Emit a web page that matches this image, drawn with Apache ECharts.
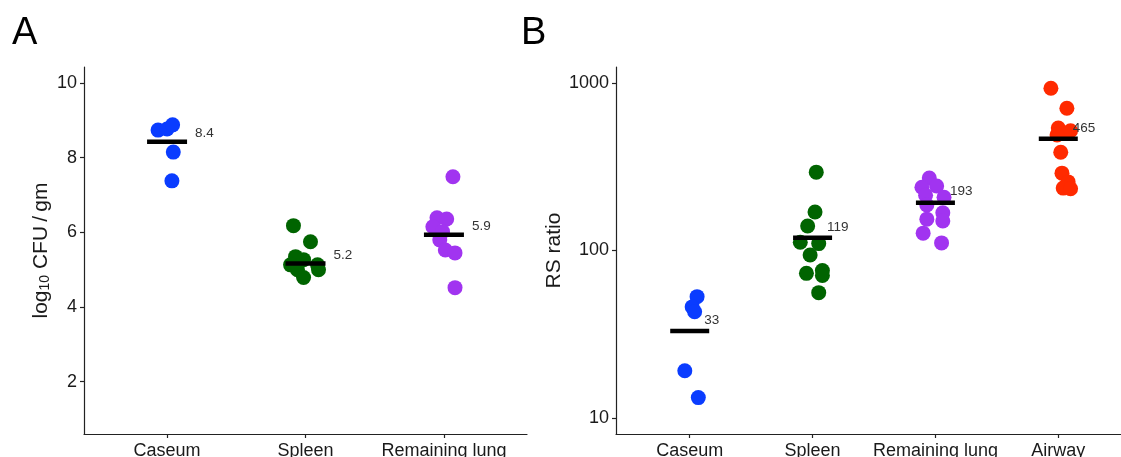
<!DOCTYPE html>
<html>
<head>
<meta charset="utf-8">
<script src="https://cdn.jsdelivr.net/npm/echarts@6/dist/echarts.min.js"></script>
<style>
html, body { margin: 0; padding: 0; background: #fff; }
#chart { width: 1121px; height: 457px; }
</style>
</head>
<body>
<div id="chart"></div>
<script>
// panel A: log10 CFU per gram
const groupsA = ['Caseum', 'Spleen', 'Remaining lung'];
const caseumA = [8.74, 8.77, 8.88, 8.15, 7.38];
const caseumAJitter = [-0.065, 0.0, 0.04, 0.045, 0.035];
const spleenA = [6.18, 5.75, 5.35, 5.27, 5.13, 5.13, 5.0, 5.0, 4.79];
const spleenAJitter = [-0.087, 0.036, -0.072, -0.014, 0.087, -0.108, 0.094, -0.058, -0.014];
const lungA = [7.49, 6.39, 6.36, 6.15, 6.02, 5.8, 5.53, 5.45, 4.52];
const lungAJitter = [0.065, -0.05, 0.02, -0.08, -0.01, -0.03, 0.01, 0.08, 0.08];
const meansA = [8.43, 5.17, 5.94];
const ticksA = [2, 4, 6, 8, 10];

// panel B: RS ratio (log scale)
const groupsB = ['Caseum', 'Spleen', 'Remaining lung', 'Airway'];
const caseumB = [53, 46, 43, 19.1, 13.2];
const caseumBJitter = [0.06, 0.02, 0.04, -0.04, 0.07];
const spleenB = [294, 170, 140, 112, 110, 94, 73, 76, 71, 56];
const spleenBJitter = [0.03, 0.02, -0.04, -0.1, 0.05, -0.02, -0.05, 0.08, 0.08, 0.05];
const lungB = [271, 239, 243, 214, 208, 187, 168, 154, 150, 127, 111];
const lungBJitter = [-0.05, -0.11, 0.01, -0.08, 0.07, -0.07, 0.06, -0.07, 0.06, -0.1, 0.05];
const airwayB = [933, 709, 539, 520, 500, 490, 387, 290, 257, 236, 234];
const airwayBJitter = [-0.06, 0.07, 0, 0.1, 0.05, -0.01, 0.02, 0.03, 0.08, 0.04, 0.1];
const meansB = [33, 119, 193, 465];
const ticksB = [10, 100, 1000];

const colors = ['#0a3cff', '#006400', '#a134f0', '#ff2a00'];
const font = 'Liberation Sans, Arial, sans-serif';
const axisColor = '#222';

function dots(values, jitter, pos, color, idx) {
    return {
        type: 'scatter',
        xAxisIndex: idx,
        yAxisIndex: idx,
        symbolSize: 15,
        silent: true,
        itemStyle: { color: color, opacity: 1 },
        data: values.map(function(v, i) { return [pos + jitter[i], v]; })
    };
}

function meanBars(means, idx, width, dist, dy, fmt) {
    return {
        type: 'scatter',
        xAxisIndex: idx,
        yAxisIndex: idx,
        symbol: 'rect',
        symbolSize: [width, 4.5],
        silent: true,
        z: 5,
        itemStyle: { color: '#000', opacity: 1 },
        label: {
            show: true,
            position: 'right',
            distance: dist,
            offset: [0, dy],
            fontSize: 13.5,
            fontFamily: font,
            color: '#333',
            formatter: function(p) { return fmt(p.value[1]); }
        },
        data: means.map(function(m, i) { return [i + 1, m]; })
    };
}

function xAxisFor(idx, groups) {
    const pos = groups.map(function(g, i) { return i + 1; });
    return {
        gridIndex: idx,
        type: 'value',
        min: 0.4,
        max: groups.length + 0.6,
        splitLine: { show: false },
        axisLine: { show: true, onZero: false, lineStyle: { color: axisColor, width: 1.2 } },
        axisTick: { show: true, customValues: pos, length: 4, lineStyle: { color: axisColor, width: 1.2 } },
        axisLabel: {
            customValues: pos,
            margin: 8,
            fontSize: 18,
            fontFamily: font,
            color: '#1a1a1a',
            formatter: function(v) { return groups[v - 1]; }
        }
    };
}

var myChart = echarts.init(document.getElementById('chart'));

option = {
    animation: false,
    title: [{
        text: 'A',
        left: 7,
        top: 10,
        textStyle: { fontSize: 38, fontWeight: 'normal', color: '#000', fontFamily: font }
    }, {
        text: 'B',
        left: 516,
        top: 10,
        textStyle: { fontSize: 38, fontWeight: 'normal', color: '#000', fontFamily: font }
    }],
    grid: [
        { left: 84, right: 594, top: 67, bottom: 23, outerBoundsMode: 'none' },
        { left: 616, right: -11, top: 67, bottom: 23, outerBoundsMode: 'none' }
    ],
    xAxis: [xAxisFor(0, groupsA), xAxisFor(1, groupsB)],
    yAxis: [{
        gridIndex: 0,
        type: 'value',
        min: 0.6,
        max: 10.43,
        name: 'log{sub|10} CFU\u2009/\u2009gm',
        nameLocation: 'middle',
        nameGap: 32,
        nameTextStyle: {
            fontSize: 21,
            fontFamily: font,
            color: '#1a1a1a',
            rich: {
                sub: { fontSize: 14, fontFamily: font, color: '#1a1a1a', verticalAlign: 'bottom', lineHeight: 14 }
            }
        },
        splitLine: { show: false },
        axisLine: { show: true, onZero: false, lineStyle: { color: axisColor, width: 1.2 } },
        axisTick: { show: true, customValues: ticksA, length: 4, lineStyle: { color: axisColor, width: 1.2 } },
        axisLabel: { customValues: ticksA, margin: 7, fontSize: 18, fontFamily: font, color: '#1a1a1a' }
    }, {
        gridIndex: 1,
        type: 'log',
        logBase: 10,
        min: 8,
        max: 1250,
        name: 'RS ratio',
        nameLocation: 'middle',
        nameGap: 50,
        nameTextStyle: { fontSize: 21, fontFamily: font, color: '#1a1a1a' },
        splitLine: { show: false },
        axisLine: { show: true, onZero: false, lineStyle: { color: axisColor, width: 1.2 } },
        axisTick: { show: true, customValues: ticksB, length: 4, lineStyle: { color: axisColor, width: 1.2 } },
        axisLabel: {
            customValues: ticksB,
            margin: 7,
            fontSize: 18,
            fontFamily: font,
            color: '#1a1a1a',
            formatter: function(v) { return String(v); }
        }
    }],
    series: [
        dots(caseumA, caseumAJitter, 1, colors[0], 0),
        dots(spleenA, spleenAJitter, 2, colors[1], 0),
        dots(lungA, lungAJitter, 3, colors[2], 0),
        meanBars(meansA, 0, 40, 8, -8, function(v) { return v.toFixed(1); }),
        dots(caseumB, caseumBJitter, 1, colors[0], 1),
        dots(spleenB, spleenBJitter, 2, colors[1], 1),
        dots(lungB, lungBJitter, 3, colors[2], 1),
        dots(airwayB, airwayBJitter, 4, colors[3], 1),
        meanBars(meansB, 1, 39, -5, -11, function(v) { return String(v); })
    ]
};

myChart.setOption(option);
window.addEventListener('resize', function() { myChart.resize(); });
</script>
</body>
</html>
